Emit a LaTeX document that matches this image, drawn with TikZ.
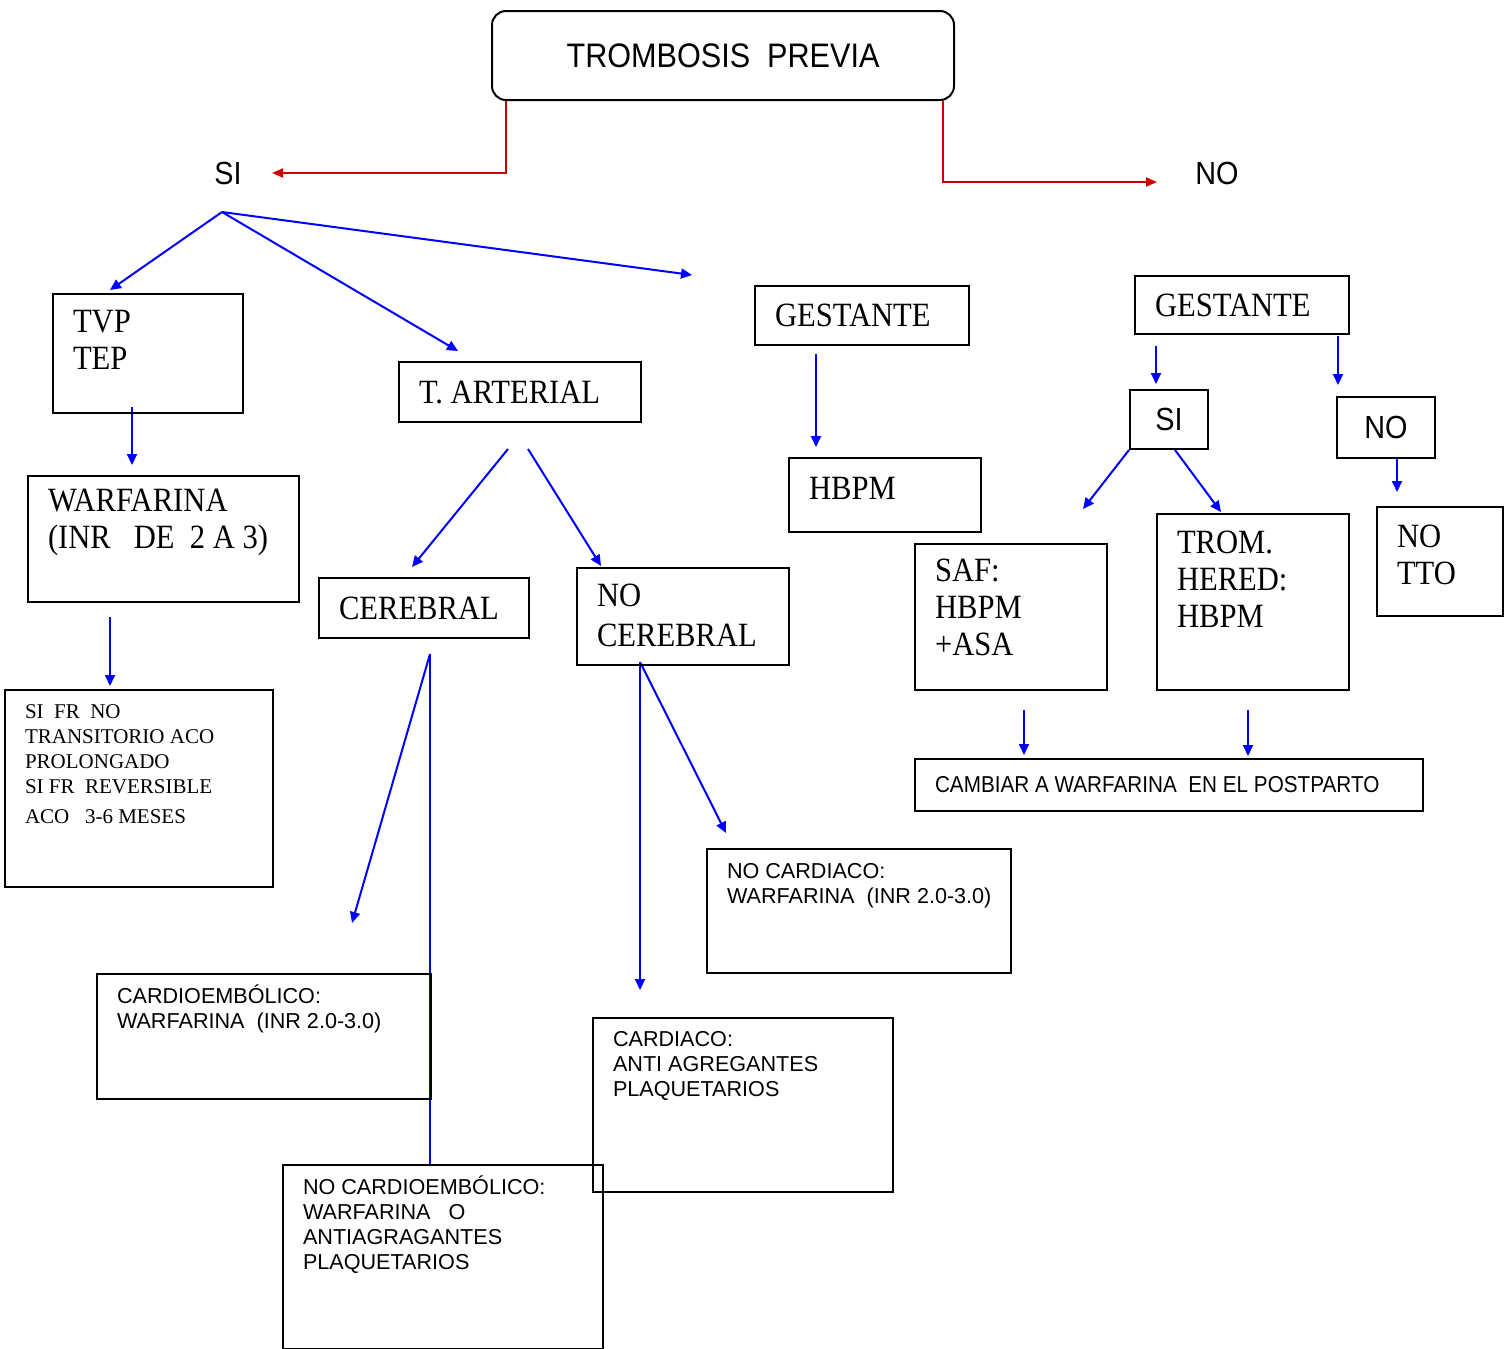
\documentclass[tikz,border=0pt]{standalone}
\usepackage{fontspec}
\newfontfamily\serifg{Liberation Serif}[FakeStretch=0.9]
\newfontfamily\serifp{Liberation Serif}
\newfontfamily\sansg{Liberation Sans}[FakeStretch=0.9]
\newfontfamily\sansp{Liberation Sans}
\usetikzlibrary{arrows.meta}
\definecolor{rojoflecha}{RGB}{204,0,0}
\pgfdeclarelayer{fondo}
\pgfsetlayers{fondo,main}
% ancho, alto, primera linea base, texto
\newcommand{\cajatxt}[4]{\parbox[c][#2][t]{#1}{\raggedright\leftskip=10pt\rule{0pt}{#3}#4}}

\begin{document}
\begin{tikzpicture}[x=0.5pt, y=-0.5pt,
    caja/.style={draw, line width=1pt, inner sep=0pt, anchor=north west},
    grande/.style={font=\serifg\fontsize{17}{18.5}\selectfont},
    chica/.style={font=\serifp\fontsize{10.5}{12.5}\selectfont},
    sans/.style={font=\sansp\fontsize{10.8}{12.5}\selectfont},
    etq/.style={inner sep=0pt, font=\sansg\fontsize{16}{18}\selectfont},
    azul/.style={draw=blue, line width=1pt, -{Triangle[length=5.5pt,width=5pt]}},
    rojo/.style={draw=rojoflecha, line width=1pt, -{Triangle[length=5.5pt,width=4.5pt]}}]
  \useasboundingbox (0,0) rectangle (1511,1349);

  \node[caja, rounded corners=7pt, minimum width=231pt, minimum height=44.5pt,
        font=\sansg\fontsize{17}{18}\selectfont] (tromb) at (491,10) {TROMBOSIS\ \ PREVIA};
  \node[etq] (si) at (228,173) {SI};
  \node[etq] (no) at (1217,173) {NO};

  % rama SI
  \node[caja, grande] (tvp) at (52,293) {\cajatxt{95pt}{59.5pt}{19pt}{TVP\\TEP}};
  \node[caja, grande] (arterial) at (398,361) {\cajatxt{121pt}{30pt}{20.5pt}{T. ARTERIAL}};
  \node[caja, grande] (gestL) at (754,285) {\cajatxt{107pt}{29.5pt}{20pt}{GESTANTE}};
  \node[caja, grande] (warf) at (27,475) {\cajatxt{135.5pt}{63pt}{17.5pt}{WARFARINA\\(INR\ \ \ DE\ \ 2 A 3)}};
  \node[caja, chica] (sifr) at (4,689) {\cajatxt{134pt}{98.5pt}{14pt}{SI\ \ FR\ \ NO\\TRANSITORIO ACO\\PROLONGADO\\SI FR\ \ REVERSIBLE\\[2.5pt]ACO\ \ \ 3-6 MESES}};
  \node[caja, grande] (cereb) at (318,577) {\cajatxt{105pt}{30pt}{20.5pt}{CEREBRAL}};
  \node[caja, grande] (nocereb) at (576,567) {\cajatxt{106pt}{48.5pt}{19pt}{NO\\[1.5pt]CEREBRAL}};
  \node[caja, sans] (cardio) at (96,973) {\cajatxt{167pt}{62.5pt}{14.5pt}{CARDIOEMBÓLICO:\\WARFARINA\ \ (INR 2.0-3.0)}};
  \node[caja, sans] (nocardemb) at (282,1164) {\cajatxt{160pt}{92pt}{14.5pt}{NO CARDIOEMBÓLICO:\\WARFARINA\ \ \ O\\ANTIAGRAGANTES\\PLAQUETARIOS}};
  \node[caja, sans] (cardiaco) at (592,1017) {\cajatxt{150pt}{87pt}{14pt}{CARDIACO:\\ANTI AGREGANTES\\PLAQUETARIOS}};
  \node[caja, sans] (nocardiaco) at (706,848) {\cajatxt{152pt}{62pt}{14.5pt}{NO CARDIACO:\\WARFARINA\ \ (INR 2.0-3.0)}};
  \node[caja, grande] (hbpm) at (788,457) {\cajatxt{96pt}{37pt}{20.5pt}{HBPM}};

  % rama NO
  \node[caja, grande] (gestR) at (1134,275) {\cajatxt{107pt}{29pt}{20pt}{GESTANTE}};
  \node[caja, etq, minimum width=39pt, minimum height=29.5pt] (siR) at (1129,389) {SI};
  \node[caja, etq, minimum width=49pt, minimum height=30.5pt] (noR) at (1336,396) {NO};
  \node[caja, grande] (notto) at (1376,506) {\cajatxt{63pt}{54.5pt}{20pt}{NO\\TTO}};
  \node[caja, grande] (saf) at (914,543) {\cajatxt{96pt}{73pt}{18.5pt}{SAF:\\HBPM\\+ASA}};
  \node[caja, grande] (trom) at (1156,513) {\cajatxt{96pt}{88pt}{19.5pt}{TROM.\\HERED:\\HBPM}};
  \node[caja, font=\sansg\fontsize{11.5}{13}\selectfont] (cambiar) at (914,758)
       {\cajatxt{254pt}{26pt}{16.5pt}{CAMBIAR A WARFARINA\ \ EN EL POSTPARTO}};

  \begin{pgfonlayer}{fondo}
    \draw[rojo] ([shift={(15,0)}]tromb.south west) |- ([shift={(30,0)}]si.east);
    \draw[rojo] ([shift={(-12,0)}]tromb.south east) |- ([shift={(-38,9)}]no.west);

    \coordinate (raiz) at ([shift={(-6,39)}]si.center);
    \draw[azul] (raiz) -- ([shift={(58,-3)}]tvp.north west);
    \draw[azul] (raiz) -- ([shift={(60,-10)}]arterial.north west);
    \draw[azul] (raiz) -- ([shift={(-62,-10)}]gestL.north west);

    \draw[azul] ([shift={(80,-7)}]tvp.south west) -- ([shift={(105,-10)}]warf.north west);
    \draw[azul] ([shift={(83,14)}]warf.south west) -- ([shift={(106,-3)}]sifr.north west);

    \draw[azul] ([shift={(110,26)}]arterial.south west) -- ([shift={(94,-10)}]cereb.north west);
    \draw[azul] ([shift={(130,26)}]arterial.south west) -- ([shift={(25,-1)}]nocereb.north west);

    \coordinate (cerebpie) at ([shift={(112,15)}]cereb.south west);
    \draw[azul] (cerebpie) -- ([shift={(256,-50)}]cardio.north west);
    \draw[blue, line width=1pt] (cerebpie) -- ([shift={(148,0)}]nocardemb.north west);

    \coordinate (nocerebpie) at ([shift={(64,-4)}]nocereb.south west);
    \draw[azul] (nocerebpie) -- ([shift={(48,-27)}]cardiaco.north west);
    \draw[azul] (nocerebpie) -- ([shift={(20,-15)}]nocardiaco.north west);

    \draw[azul] ([shift={(62,8)}]gestL.south west) -- ([shift={(28,-10)}]hbpm.north west);

    \draw[azul] ([shift={(22,11)}]gestR.south west) -- ([shift={(27,-5)}]siR.north west);
    \draw[azul, shorten >=5.5pt] ([shift={(-12,1)}]gestR.south east) coordinate (gr) -- (gr |- noR.north);
    \draw[azul] ([shift={(61,0)}]noR.south west) -- ([shift={(21,-14)}]notto.north west);
    \draw[azul] (siR.south west) -- ([shift={(169,-34)}]saf.north west);
    \draw[azul] ([shift={(46,0)}]siR.south west) -- ([shift={(65,-1)}]trom.north west);
    \draw[azul] ([shift={(110,19)}]saf.south west) -- ([shift={(110,-3)}]cambiar.north west);
    \draw[azul] ([shift={(92,19)}]trom.south west) -- ([shift={(334,-2)}]cambiar.north west);
  \end{pgfonlayer}
\end{tikzpicture}
\end{document}
